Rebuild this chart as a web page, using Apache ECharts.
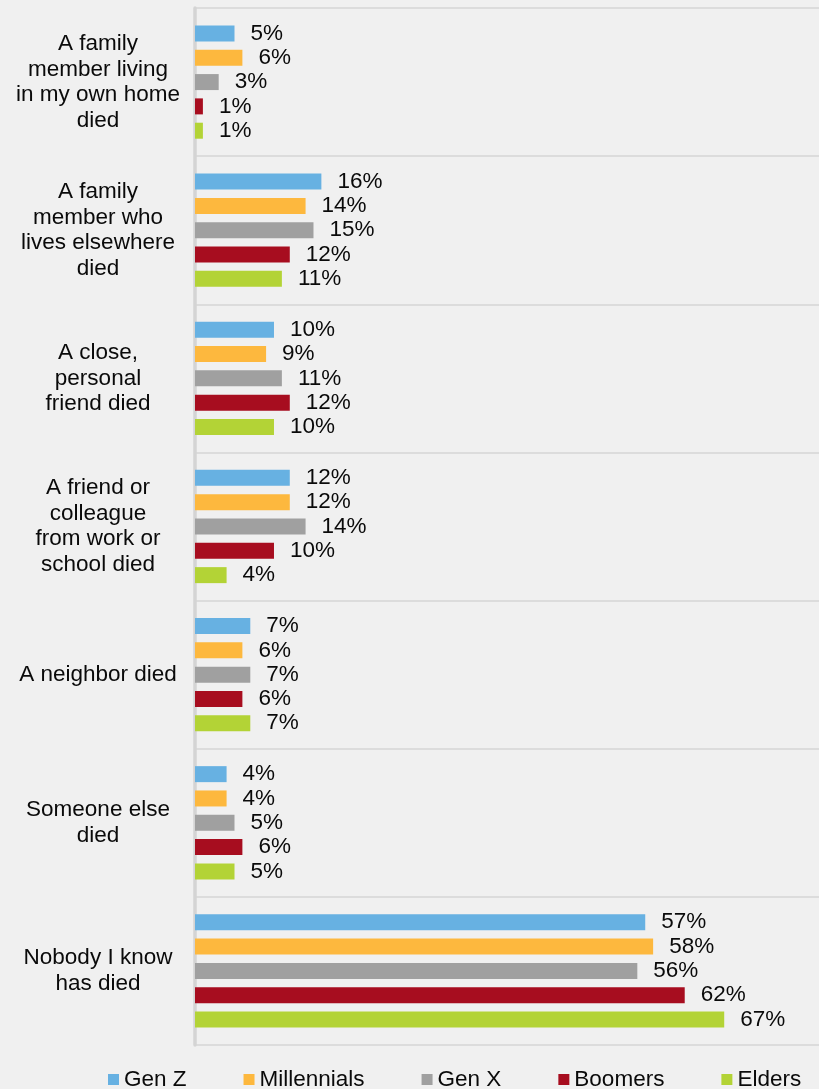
<!DOCTYPE html>
<html>
<head>
<meta charset="utf-8">
<script src="https://cdn.jsdelivr.net/npm/echarts@6/dist/echarts.min.js"></script>
<style>
  html, body { margin: 0; padding: 0; background: #f0f0f0; }
  #chart { width: 819px; height: 1089px; }
</style>
</head>
<body>
<div id="chart"></div>
<script>
// Categories (top to bottom) and generation series, in percent
const categories = [
  'A family\nmember living\nin my own home\ndied',
  'A family\nmember who\nlives elsewhere\ndied',
  'A close,\npersonal\nfriend died',
  'A friend or\ncolleague\nfrom work or\nschool died',
  'A neighbor died',
  'Someone else\ndied',
  'Nobody I know\nhas died'
];
const seriesNames = ['Gen Z', 'Millennials', 'Gen X', 'Boomers', 'Elders'];
const genZ        = [5, 16, 10, 12, 7, 4, 57];
const millennials = [6, 14, 9, 12, 6, 4, 58];
const genX        = [3, 15, 11, 14, 7, 5, 56];
const boomers     = [1, 12, 12, 10, 6, 6, 62];
const elders      = [1, 11, 10, 4, 7, 5, 67];
const seriesData = [genZ, millennials, genX, boomers, elders];
const colors = ['#67b1e2', '#fdb83e', '#a0a0a0', '#a70d1f', '#b3d336'];

const FONT = '"Liberation Sans", Arial, sans-serif';
const FONT_SIZE = 22.5;
const TEXT_COLOR = '#0a0a0a';

const chart = echarts.init(document.getElementById('chart'), null, { renderer: 'canvas' });

chart.setOption({
  backgroundColor: '#f0f0f0',
  animation: false,
  color: colors,
  grid: { left: 195, right: 0, top: 8, bottom: 44, containLabel: false },
  legend: {
    data: seriesNames,
    left: 103,
    top: 1063,
    itemWidth: 11,
    itemHeight: 11,
    itemGap: 57,
    icon: 'rect',
    textStyle: { fontFamily: FONT, fontSize: FONT_SIZE, color: TEXT_COLOR }
  },
  xAxis: {
    type: 'value',
    min: 0,
    max: 79,
    show: false
  },
  yAxis: {
    type: 'category',
    data: categories,
    inverse: true,
    axisLine: { show: true, lineStyle: { color: '#d4d4d4', width: 3.5 } },
    axisTick: { show: false },
    splitLine: { show: true, lineStyle: { color: '#dcdcdc', width: 2 } },
    axisLabel: {
      fontFamily: FONT,
      fontSize: FONT_SIZE,
      lineHeight: 25.5,
      color: TEXT_COLOR,
      align: 'center',
      margin: 97
    }
  },
  series: seriesData.map((vals, i) => ({
    name: seriesNames[i],
    type: 'bar',
    data: vals,
    barWidth: 16,
    barGap: '52%',
    barCategoryGap: '23%',
    label: {
      show: true,
      position: 'right',
      distance: 16,
      formatter: '{c}%',
      fontFamily: FONT,
      fontSize: FONT_SIZE,
      color: TEXT_COLOR
    }
  }))
});
</script>
</body>
</html>
